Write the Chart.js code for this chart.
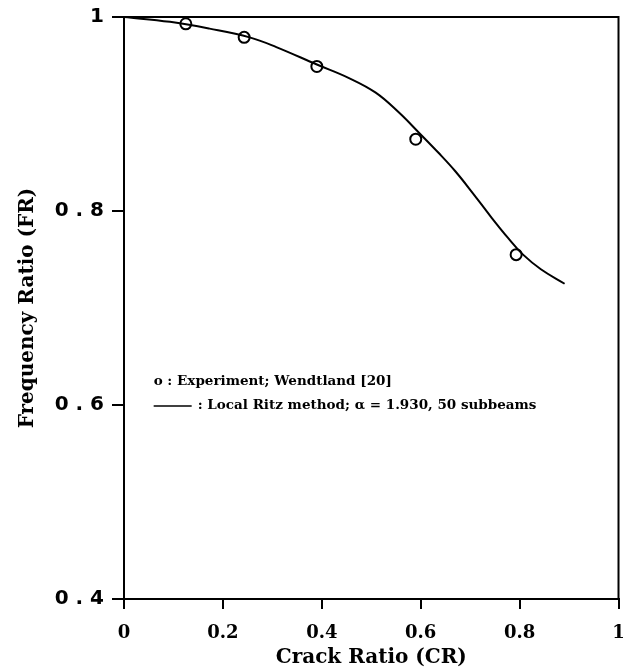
<!DOCTYPE html>
<html lang="en">
<head>
    <meta charset="UTF-8">
    <title>Frequency Ratio vs Crack Ratio</title>
    <script src="https://cdn.jsdelivr.net/npm/chart.js"></script>
    <style>
        body { margin: 0; background: #fff; }
        #chart { display: block; }
    </style>
</head>
<body>
    <canvas id="chart" width="626" height="670"></canvas>

    <script>
        // experiment (Wendtland [20])
        const expCR = [0.125, 0.243, 0.39, 0.59, 0.793];
        const expFR = [0.993, 0.979, 0.949, 0.874, 0.755];

        // local Ritz method curve
        const ritzCR = [0, 0.093, 0.173, 0.254, 0.308, 0.39, 0.455, 0.509, 0.555, 0.596, 0.636, 0.67, 0.706, 0.742, 0.777, 0.807, 0.843, 0.891];
        const ritzFR = [1, 0.995, 0.988, 0.979, 0.969, 0.951, 0.937, 0.922, 0.902, 0.881, 0.860, 0.841, 0.818, 0.794, 0.772, 0.755, 0.740, 0.725];

        const xTicks = [0, 0.2, 0.4, 0.6, 0.8, 1];
        const yTicks = [0.4, 0.6, 0.8, 1];

        const legendLines = [
            'o : Experiment; Wendtland [20]',
            ': Local Ritz method; \u03b1 = 1.930, 50 subbeams'
        ];

        const serif = '"DejaVu Serif", serif';

        // frame + text legend inside the plot
        const framePlugin = {
            id: 'frame',
            afterDraw(chart) {
                const { ctx, chartArea: a, scales } = chart;
                ctx.save();
                ctx.strokeStyle = '#000';
                ctx.lineWidth = 2;
                ctx.strokeRect(a.left, a.top, a.right - a.left, a.bottom - a.top);

                const lx = scales.x.getPixelForValue(0.06);
                const ly1 = scales.y.getPixelForValue(0.624);
                const ly2 = scales.y.getPixelForValue(0.599);
                ctx.fillStyle = '#000';
                ctx.font = 'bold 13.5px ' + serif;
                ctx.textBaseline = 'middle';
                ctx.fillText(legendLines[0], lx, ly1);
                ctx.beginPath();
                ctx.lineWidth = 1.5;
                ctx.moveTo(lx, ly2);
                ctx.lineTo(lx + 38, ly2);
                ctx.stroke();
                ctx.fillText(legendLines[1], lx + 44, ly2);
                ctx.restore();
            }
        };

        new Chart(document.getElementById('chart'), {
            type: 'scatter',
            data: {
                datasets: [
                    {
                        label: 'Local Ritz method',
                        data: ritzCR.map((x, i) => ({ x: x, y: ritzFR[i] })),
                        showLine: true,
                        borderColor: '#000',
                        borderWidth: 2,
                        pointRadius: 0,
                        tension: 0.4
                    },
                    {
                        label: 'Experiment',
                        data: expCR.map((x, i) => ({ x: x, y: expFR[i] })),
                        showLine: false,
                        pointRadius: 5.5,
                        pointBorderWidth: 2,
                        pointBorderColor: '#000',
                        pointBackgroundColor: '#fff'
                    }
                ]
            },
            options: {
                responsive: false,
                animation: false,
                layout: { padding: { top: 17, right: 5, left: 0, bottom: 0 } },
                plugins: {
                    legend: { display: false },
                    tooltip: { enabled: false }
                },
                scales: {
                    x: {
                        type: 'linear',
                        min: 0,
                        max: 1,
                        afterBuildTicks: s => { s.ticks = xTicks.map(v => ({ value: v })); },
                        afterFit: s => { s.height = 71; s.paddingLeft = 0; s.paddingRight = 0; },
                        border: { display: true, color: '#000', width: 2 },
                        grid: { drawOnChartArea: false, color: '#000', lineWidth: 2, tickLength: 10 },
                        ticks: {
                            color: '#000',
                            padding: 14,
                            font: { family: serif, size: 18, weight: 'bold' },
                            callback: v => String(v)
                        },
                        title: {
                            display: true,
                            text: 'Crack Ratio (CR)',
                            color: '#000',
                            padding: { top: 0, bottom: 0 },
                            font: { family: serif, size: 20, weight: 'bold' }
                        }
                    },
                    y: {
                        type: 'linear',
                        min: 0.4,
                        max: 1,
                        afterBuildTicks: s => { s.ticks = yTicks.map(v => ({ value: v })); },
                        afterFit: s => { s.width = 124; s.paddingTop = 0; s.paddingBottom = 0; },
                        border: { display: true, color: '#000', width: 2 },
                        grid: { drawOnChartArea: false, color: '#000', lineWidth: 2, tickLength: 12 },
                        ticks: {
                            color: '#000',
                            padding: 8,
                            font: { family: '"DejaVu Sans", sans-serif', size: 20, weight: 'bold' },
                            callback: v => v === 1 ? '1' : v.toFixed(1).split('').join(' ')
                        },
                        title: {
                            display: true,
                            text: 'Frequency Ratio (FR)',
                            color: '#000',
                            padding: { top: 16, bottom: 0 },
                            font: { family: serif, size: 20, weight: 'bold' }
                        }
                    }
                }
            },
            plugins: [framePlugin]
        });
    </script>
</body>
</html>
